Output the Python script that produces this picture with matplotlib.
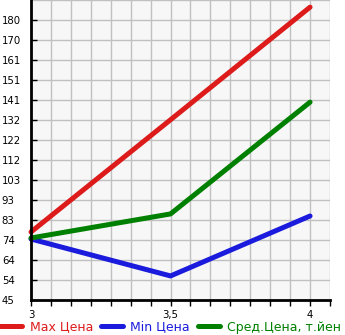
import numpy as np
import matplotlib
matplotlib.use("Agg")
import matplotlib.pyplot as plt

x_vals = [3, 3.5, 4]
max_price = [77.8, 131.9, 186.2]
min_price = [74.4, 56.6, 85.5]
avg_price = [74.9, 86.5, 140.4]
ytick_labels = ['45', '54', '64', '74', '83', '93', '103', '112', '122',
                '132', '141', '151', '161', '170', '180']
xtick_labels = ['3', '3,5', '4']
legend_labels = ['Max Цена', 'Min Цена', 'Сред.Цена, т.йен']

red = '#dd1b1b'
blue = '#1b1bdd'
green = '#008000'

fig = plt.figure(figsize=(3.45, 3.35), dpi=100)
ax = fig.add_axes([31/345, 35/335, 299/345, 300/335])
ax.set_facecolor('#f7f7f7')

y0, y1 = 45, 180
step = (y1 - y0) / 14
ax.set_ylim(y0, y0 + step * 15)
ax.set_xlim(3, 3 + 299 / 280)

ax.set_yticks(y0 + step * np.arange(15))
ax.set_yticklabels(ytick_labels)
ax.set_xticks([3, 3.5, 4])
ax.set_xticklabels(xtick_labels)
ax.set_xticks(3 + np.arange(16) / 14, minor=True)

ax.grid(True, which='both', color='#c0c0c0', linewidth=1.0)
ax.axhline(y0 + step * 15, color='#c0c0c0', linewidth=1.0)
ax.set_axisbelow(True)
for s in ['top', 'right']:
    ax.spines[s].set_visible(False)
for s in ['left', 'bottom']:
    ax.spines[s].set_linewidth(2)
    ax.spines[s].set_color('black')

ax.tick_params(axis='y', which='major', direction='in', length=4, width=1,
               labelsize=7.3, pad=21)
ax.tick_params(axis='x', which='both', direction='out', length=4, width=1,
               labelsize=7.3, pad=3)
for lab in ax.get_yticklabels():
    lab.set_horizontalalignment('left')

ax.plot(x_vals, max_price, color=red, linewidth=3.6, solid_capstyle='round', clip_on=False)
ax.plot(x_vals, min_price, color=blue, linewidth=3.6, solid_capstyle='round', clip_on=False)
ax.plot(x_vals, avg_price, color=green, linewidth=3.6, solid_capstyle='round', clip_on=False)

handles = ax.get_lines()[1:]
fig.legend(handles, legend_labels, loc='center left', bbox_to_anchor=(0, 8/335),
           ncol=3, frameon=False, fontsize=9, labelcolor='linecolor',
           borderpad=0, borderaxespad=0,
           handlelength=1.75, handletextpad=0.62, columnspacing=0.62)

fig.savefig('out.png', dpi=100)
